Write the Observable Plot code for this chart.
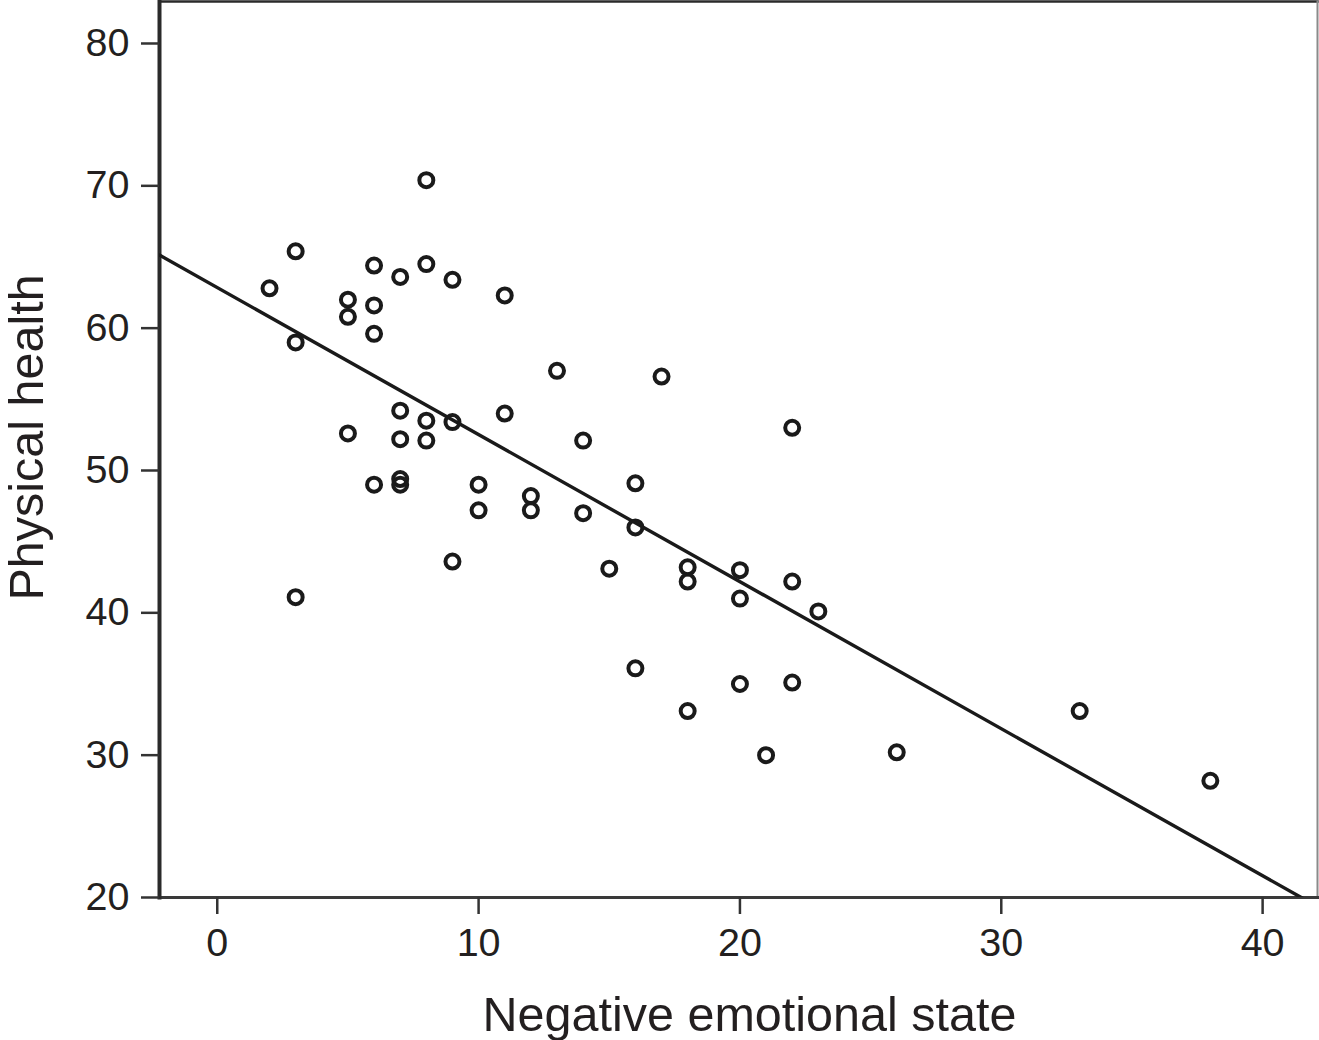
<!DOCTYPE html>
<html>
<head>
<meta charset="utf-8">
<script src="https://cdn.jsdelivr.net/npm/d3@7"></script>
<script src="https://cdn.jsdelivr.net/npm/@observablehq/plot@0.6"></script>
<style>
  html, body { margin: 0; padding: 0; background: #fff; }
  #chart { width: 1319px; height: 1040px; }
</style>
</head>
<body>
<div id="chart"></div>
<script>
// Data
const negativeEmotionalState = [2,3,3,3,5,5,5,6,6,6,6,7,7,7,7,7,8,8,8,8,9,9,9,10,10,11,11,12,12,13,14,14,15,16,16,16,17,18,18,18,20,20,20,21,22,22,22,23,26,33,38];
const physicalHealth = [62.8,65.4,59.0,41.1,62.0,60.8,52.6,64.4,61.6,59.6,49.0,63.6,54.2,52.2,49.4,49.0,70.4,64.5,53.5,52.1,63.4,53.4,43.6,49.0,47.2,62.3,54.0,48.2,47.2,57.0,52.1,47.0,43.1,49.1,46.0,36.1,56.6,43.2,42.2,33.1,43.0,41.0,35.0,30.0,53.0,42.2,35.1,40.1,30.2,33.1,28.2];
// Fitted regression line (as drawn in the reference)
const fitIntercept = 62.85;
const fitSlope = -1.033;
// Axis ticks and titles
const xTicks = [0, 10, 20, 30, 40];
const yTicks = [20, 30, 40, 50, 60, 70, 80];
const xTitle = "Negative emotional state";
const yTitle = "Physical health";
const xDomain = [-2.21, 42.1];
const yDomain = [20, 82.95];

const points = negativeEmotionalState.map((x, i) => ({x, y: physicalHealth[i]}));
const fitEnds = xDomain.map(x => ({x, y: fitIntercept + fitSlope * x}));

const ink = "#231f20";
const chart = Plot.plot({
  width: 1319,
  height: 1040,
  marginLeft: 159,
  marginRight: 2,
  marginTop: 1,
  marginBottom: 143,
  style: {fontFamily: "'Liberation Sans', Arial, Helvetica, sans-serif", fontSize: "39px", color: ink, background: "#fff", overflow: "visible"},
  x: {domain: xDomain},
  y: {domain: yDomain},
  marks: [
    Plot.frame({anchor: "top", stroke: "#2a2a2a", strokeWidth: 2.5}),
    Plot.frame({anchor: "right", stroke: "#8a8a8a", strokeWidth: 2}),
    Plot.frame({anchor: "bottom", stroke: "#3a3a3a", strokeWidth: 3.2}),
    Plot.frame({anchor: "left", stroke: "#2a2a2a", strokeWidth: 4}),
    Plot.axisY(yTicks, {tickSize: 18, tickPadding: 12, fontSize: 39.5, stroke: "#333", strokeWidth: 2.5, label: null, fill: ink}),
    Plot.axisX(xTicks, {tickSize: 17, tickPadding: 13, fontSize: 39.5, stroke: "#333", strokeWidth: 2.5, label: null, fill: ink}),
    Plot.line(fitEnds, {x: "x", y: "y", stroke: "#1a1a1a", strokeWidth: 3.4, clip: true}),
    Plot.dot(points, {x: "x", y: "y", r: 7, stroke: "#1a1a1a", strokeWidth: 4, fill: "none"}),
    Plot.text([xTitle], {text: d => d, frameAnchor: "bottom", lineAnchor: "top", textAnchor: "middle", dy: 99, dx: 11, fontSize: 48.5, fill: ink}),
    Plot.text([yTitle], {text: d => d, frameAnchor: "left", lineAnchor: "top", textAnchor: "middle", rotate: -90, dx: -151, dy: -12, fontSize: 48.5, fill: ink})
  ]
});
document.getElementById("chart").appendChild(chart);
</script>
</body>
</html>
